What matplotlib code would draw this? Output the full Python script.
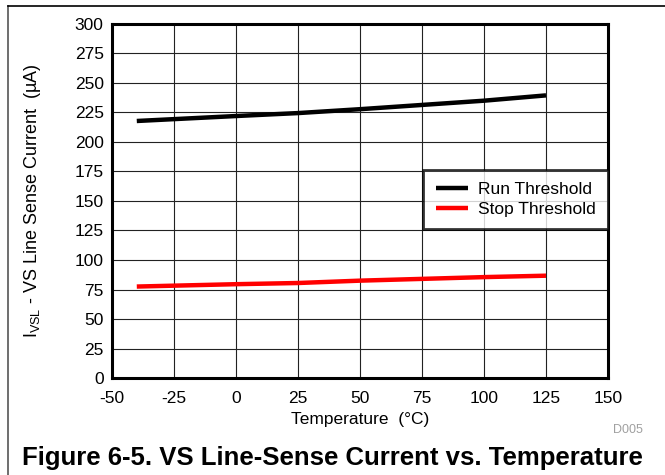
import matplotlib
matplotlib.use("Agg")
import matplotlib.pyplot as plt
from matplotlib.lines import Line2D

plt.rcParams['font.family'] = ['Liberation Sans', 'DejaVu Sans']
plt.rcParams['axes.unicode_minus'] = False

temp = [-40, 0, 25, 50, 75, 100, 125]
run_threshold = [217.8, 222, 224.5, 227.8, 231.4, 235, 239.5]
stop_threshold = [77.5, 79.5, 80.5, 82.5, 84, 85.5, 86.7]

xticks = [-50, -25, 0, 25, 50, 75, 100, 125, 150]
yticks = list(range(0, 301, 25))

fig = plt.figure(figsize=(6.65, 4.75), dpi=100)
ax = fig.add_axes([0.1684, 0.2042, 0.7459, 0.7453])

ax.plot(temp, run_threshold, color='black', lw=3.2, label="Run Threshold", solid_capstyle='butt')
ax.plot(temp, stop_threshold, color='#ff0000', lw=3.2, label="Stop Threshold", solid_capstyle='butt')

ax.set_xlim(-50, 150)
ax.set_ylim(0, 300)
ax.set_xticks(xticks)
ax.set_yticks(yticks)
ax.tick_params(length=0, labelsize=12.5, colors='black')
ax.tick_params(axis='y', pad=6)
ax.tick_params(axis='x', pad=9)
ax.grid(True, color='#222222', lw=0.8)
ax.set_axisbelow(True)
for s in ax.spines.values():
    s.set_linewidth(2.2)
    s.set_color('black')

ax.set_xlabel("Temperature  (°C)", fontsize=12.5)
ax.xaxis.set_label_coords(0.5, -0.095)
ax.set_ylabel("I$_{\\mathregular{VSL}}$ - VS Line Sense Current  (µA)", fontsize=13)
ax.yaxis.set_label_coords(-0.14, 0.5)

leg = ax.legend(loc='upper right', bbox_to_anchor=(1.0, 0.5876), fontsize=12.5,
                frameon=True, fancybox=False, handlelength=1.85, borderpad=0.7,
                labelspacing=0.25, handletextpad=0.6, borderaxespad=0)
leg.get_frame().set_edgecolor('black')
leg.get_frame().set_linewidth(2)
for h in leg.get_lines():
    h.set_linewidth(3.2)

fig.text(0.944, 0.095, "D005", fontsize=9, color='#a0a0a0', ha='center', va='center')
fig.text(0.5, 0.036, "Figure 6-5. VS Line-Sense Current vs. Temperature",
         fontsize=18.5, fontweight='bold', ha='center', va='center')

# outer frame lines
fig.add_artist(Line2D([0.012, 0.012], [0, 0.987], color='#555555', lw=1.2, transform=fig.transFigure))
fig.add_artist(Line2D([0.012, 1.0], [0.987, 0.987], color='black', lw=1.2, transform=fig.transFigure))

fig.savefig("out.png", dpi=100)
